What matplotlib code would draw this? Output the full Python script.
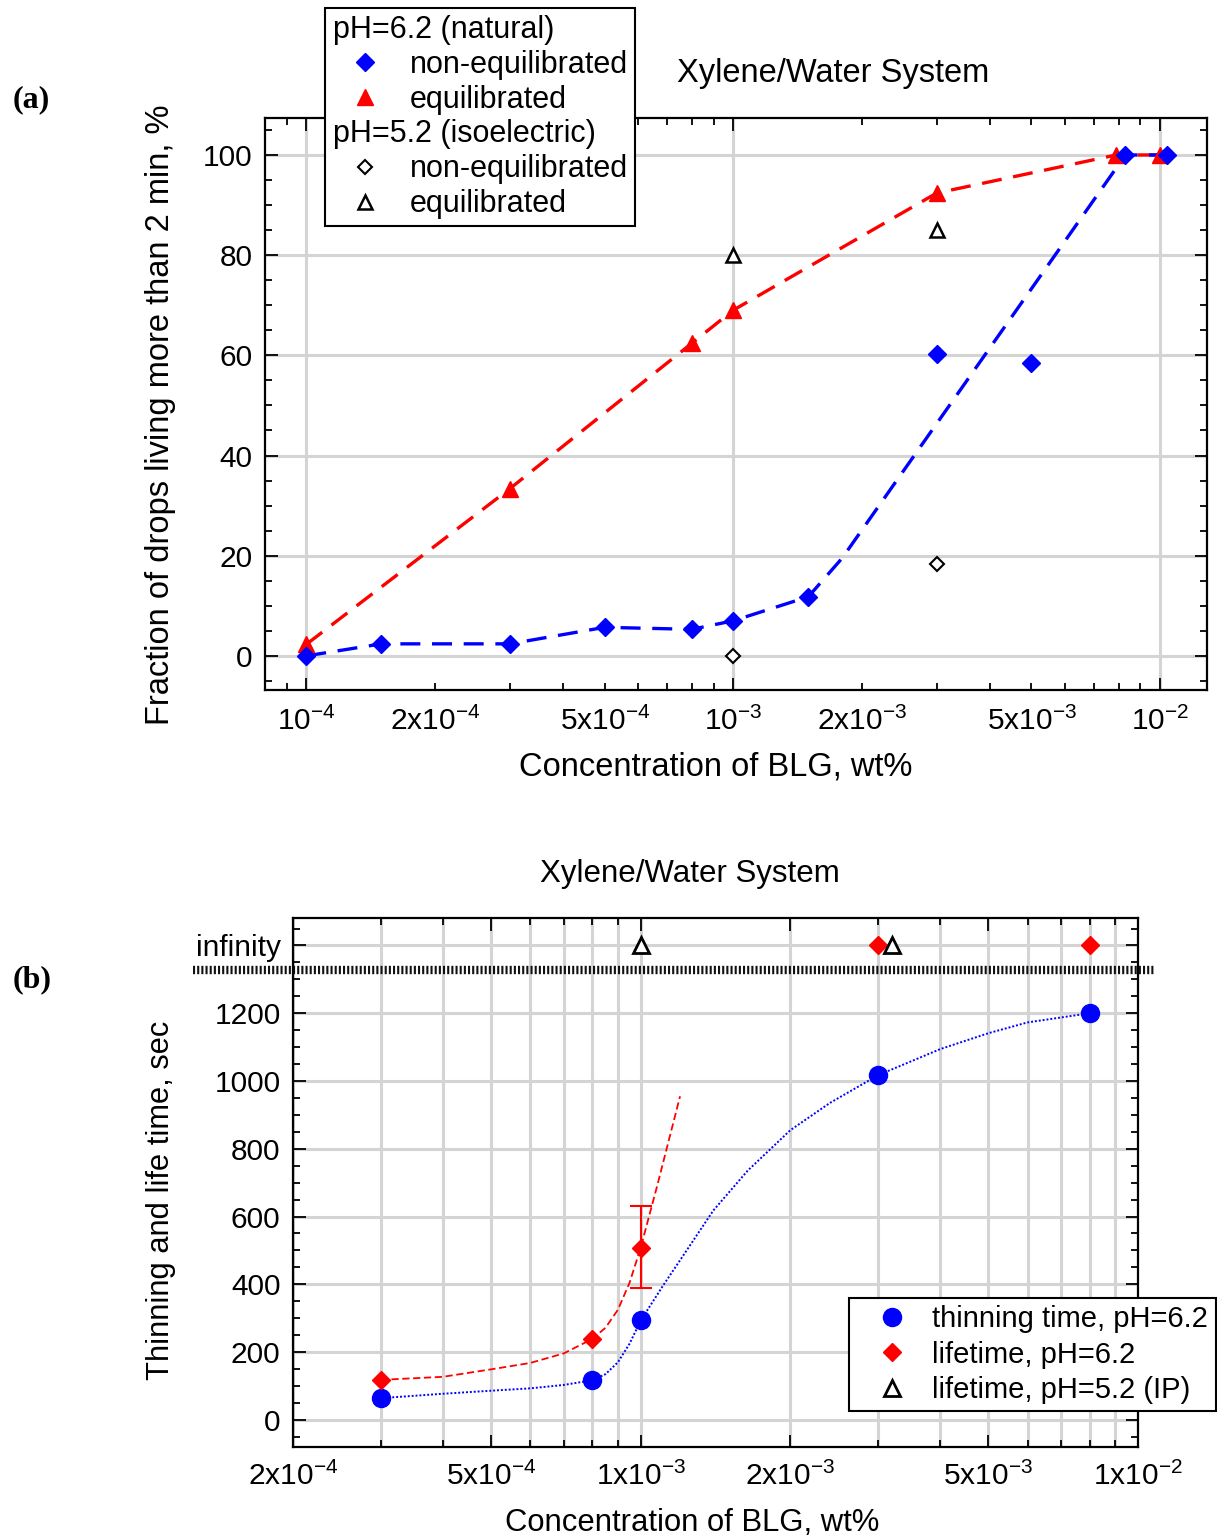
import numpy as np
import matplotlib.pyplot as plt
from matplotlib.lines import Line2D
from matplotlib.ticker import MultipleLocator, NullFormatter

plt.rcParams['font.family'] = ['Liberation Sans', 'DejaVu Sans']
plt.rcParams['mathtext.fontset'] = 'custom'
plt.rcParams['mathtext.rm'] = 'Liberation Sans'
plt.rcParams['mathtext.it'] = 'Liberation Sans:italic'
plt.rcParams['mathtext.bf'] = 'Liberation Sans:bold'

# ---- (a) fraction of drops living more than 2 min ----
conc_ne62 = [1e-4, 1.5e-4, 3e-4, 5e-4, 8e-4, 1e-3, 1.5e-3, 3e-3, 5e-3, 8.3e-3, 1.04e-2]
frac_ne62 = [0, 2.4, 2.4, 5.7, 5.3, 7.0, 11.8, 60.3, 58.4, 100, 100]
trend_ne62_x = [1e-4, 1.5e-4, 3e-4, 5e-4, 8e-4, 1e-3, 1.5e-3, 1.8e-3, 8.3e-3, 1.04e-2]
trend_ne62_y = [0, 2.4, 2.4, 5.7, 5.3, 7.0, 11.8, 19.5, 100, 100]
conc_eq62 = [1e-4, 3e-4, 8e-4, 1e-3, 3e-3, 7.9e-3, 1e-2]
frac_eq62 = [2.3, 33.4, 62.4, 69.0, 92.4, 100, 100]
conc_ne52 = [1e-3, 3e-3]
frac_ne52 = [0, 18.3]
conc_eq52 = [1e-3, 3e-3]
frac_eq52 = [80, 85]

a_major = [1e-4, 1e-3, 1e-2]
a_major_labels = ['$10^{-4}$', '$10^{-3}$', '$10^{-2}$']
a_labeled_minor = {2e-4: '2x$10^{-4}$', 5e-4: '5x$10^{-4}$',
                   2e-3: '2x$10^{-3}$', 5e-3: '5x$10^{-3}$'}

# ---- (b) thinning and life time ----
INF = 1400          # "infinity" row
INF_LINE = 1327     # break line
conc_thin = [3e-4, 8e-4, 1e-3, 3e-3, 8e-3]
thin_time = [65, 118, 296, 1017, 1200]
conc_life = [3e-4, 8e-4, 1e-3, 3e-3, 8e-3]
life_time = [118, 239, 508, INF, INF]
life_err_lo = [0, 0, 118, 0, 0]
life_err_hi = [0, 0, 122, 0, 0]
conc_life52 = [1e-3, 3.2e-3]
life52 = [INF, INF]
# guide curves
fit_life_x = [3e-4, 4e-4, 5e-4, 6e-4, 7e-4, 8e-4, 8.5e-4, 9e-4, 9.5e-4, 1e-3, 1.08e-3, 1.2e-3]
fit_life_y = [118, 127, 149, 168, 196, 239, 272, 325, 405, 508, 692, 955]
fit_thin_x = [3e-4, 4e-4, 5e-4, 6e-4, 7e-4, 8e-4, 8.5e-4, 9e-4, 9.5e-4, 1e-3, 1.11e-3, 1.2e-3,
              1.4e-3, 1.64e-3, 2e-3, 2.4e-3, 3e-3, 4e-3, 5e-3, 6e-3, 8e-3]
fit_thin_y = [64, 77, 86, 93, 103, 117, 135, 170, 225, 293, 397, 471,
              618, 735, 855, 935, 1017, 1094, 1141, 1173, 1200]

b_major = [2e-4, 5e-4, 1e-3, 2e-3, 5e-3, 1e-2]
b_major_labels = ['2x$10^{-4}$', '5x$10^{-4}$', '1x$10^{-3}$',
                  '2x$10^{-3}$', '5x$10^{-3}$', '1x$10^{-2}$']
b_yticks = [0, 200, 400, 600, 800, 1000, 1200, INF]
b_ylabels = ['0', '200', '400', '600', '800', '1000', '1200', 'infinity']

GRID = '#d4d4d4'
FS = 21.5

fig = plt.figure(figsize=(12.17, 15.39), dpi=100)
ax1 = fig.add_axes([0.2177, 0.5517, 0.7740, 0.3717])
ax2 = fig.add_axes([0.2408, 0.0598, 0.6943, 0.3437])

def style_axes(ax, xpad):
    for s in ax.spines.values():
        s.set_linewidth(1.6)
    ax.tick_params(which='both', direction='in', top=True, right=True,
                   width=1.3, labelsize=FS)
    ax.tick_params(which='major', length=9)
    ax.tick_params(which='minor', length=5)
    ax.tick_params(axis='x', which='both', pad=xpad)
    ax.tick_params(axis='y', which='both', pad=9)

# ---------------- panel (a) ----------------
ax1.set_xscale('log')
ax1.set_xlim(8.0e-5, 1.288e-2)
ax1.set_ylim(-6.8, 107.4)
style_axes(ax1, 12)
ax1.set_xticks(a_major, a_major_labels)
minor_a = [k * 10.0 ** e for e in (-5, -4, -3, -2) for k in range(2, 10)]
minor_a = [m for m in minor_a if 8.0e-5 < m < 1.288e-2]
ax1.set_xticks(minor_a, [a_labeled_minor.get(m, '') for m in minor_a], minor=True)
ax1.set_yticks([0, 20, 40, 60, 80, 100])
ax1.yaxis.set_minor_locator(MultipleLocator(5))
ax1.grid(True, which='major', color=GRID, lw=2.2)
ax1.set_axisbelow(True)

dash = (0, (6, 3.5))
ax1.plot(conc_eq62, frac_eq62, color='red', ls=dash, lw=2.4)
ax1.plot(trend_ne62_x, trend_ne62_y, color='blue', ls=dash, lw=2.4)
l_eq62, = ax1.plot(conc_eq62, frac_eq62, 'r^', ms=12, ls='none', label='equilibrated')
l_ne62, = ax1.plot(conc_ne62, frac_ne62, 'bD', ms=9.5, ls='none', label='non-equilibrated')
l_ne52, = ax1.plot(conc_ne52, frac_ne52, 'D', ms=7, mfc='white', mec='black', mew=1.5,
                   ls='none', label='non-equilibrated')
l_eq52, = ax1.plot(conc_eq52, frac_eq52, '^', ms=10, mfc='white', mec='black', mew=1.8,
                   ls='none', label='equilibrated')

ax1.set_xlabel('Concentration of BLG, wt%', fontsize=23.5)
ax1.xaxis.set_label_coords(0.479, -0.108)
ax1.set_ylabel('Fraction of drops living more than 2 min, %', fontsize=23.5)
ax1.yaxis.set_label_coords(-0.094, 0.481)
ax1.set_title('Xylene/Water System', fontsize=23.5, x=0.603, pad=26)

hdr1 = Line2D([], [], ls='none', label=' ')
hdr2 = Line2D([], [], ls='none', label=' ')
leg1 = ax1.legend(handles=[hdr1, l_ne62, l_eq62, hdr2, l_ne52, l_eq52],
                  loc='upper left', bbox_to_anchor=(0.0637, 1.192), borderaxespad=0,
                  fontsize=22, frameon=True, fancybox=False, framealpha=1,
                  edgecolor='black', borderpad=0.22, handlelength=2.2,
                  handletextpad=0.37, labelspacing=0.16)
leg1.get_frame().set_linewidth(1.5)
for i, hdr in ((0, 'pH=6.2 (natural)'), (3, 'pH=5.2 (isoelectric)')):
    ax1.annotate(hdr, xy=(0, 0), xycoords=leg1.get_texts()[i],
                 xytext=(-77, 0), textcoords='offset pixels', fontsize=22,
                 ha='left', va='bottom', zorder=10, annotation_clip=False)

fig.text(0.010, 1 - 100 / 1539, '(a)', family='Liberation Serif', weight='bold',
         fontsize=23, va='center')

# ---------------- panel (b) ----------------
ax2.set_xscale('log')
ax2.set_xlim(2e-4, 1e-2)
ax2.set_ylim(-80, 1481)
style_axes(ax2, 11)
ax2.set_xticks(b_major, b_major_labels)
minor_b = [k * 10.0 ** e for e in (-4, -3) for k in range(2, 10)]
minor_b = [m for m in minor_b if 2e-4 < m < 1e-2 and not any(np.isclose(m, b_major))]
ax2.set_xticks(minor_b, minor=True)
ax2.xaxis.set_minor_formatter(NullFormatter())
ax2.set_yticks(b_yticks, b_ylabels)
ax2.yaxis.set_minor_locator(MultipleLocator(50))
ax2.grid(True, axis='x', which='both', color=GRID, lw=2.2)
ax2.grid(True, axis='y', which='major', color=GRID, lw=2.2)
ax2.set_axisbelow(True)

ax2.plot(fit_life_x, fit_life_y, color='red', ls=(0, (4, 2)), lw=1.3)
ax2.plot(fit_thin_x, fit_thin_y, color='blue', ls=(0, (1, 1)), lw=1.4)

err_mask = np.array(life_err_hi) > 0
ax2.errorbar(np.array(conc_life)[err_mask], np.array(life_time)[err_mask],
             yerr=[np.array(life_err_lo)[err_mask], np.array(life_err_hi)[err_mask]],
             fmt='none', ecolor='red', elinewidth=1.5, capsize=8, capthick=1.5)

m_thin, = ax2.plot(conc_thin, thin_time, 'o', color='blue', ms=13, ls='none',
                   label='thinning time, pH=6.2')
m_life, = ax2.plot(conc_life, life_time, 'D', color='red', ms=9, ls='none',
                   label='lifetime, pH=6.2')
m_life52, = ax2.plot(conc_life52, life52, '^', ms=11, mfc='white', mec='black', mew=2,
                     ls='none', label='lifetime, pH=5.2 (IP)')

ax2.axhline(INF_LINE, xmin=-0.118, xmax=1.020, color='#111111', ls=(0, (0.25, 0.25)),
            lw=6, clip_on=False)

ax2.set_xlabel('Concentration of BLG, wt%', fontsize=22.3)
ax2.xaxis.set_label_coords(0.472, -0.115)
ax2.set_ylabel('Thinning and life time, sec', fontsize=22.2)
ax2.yaxis.set_label_coords(-0.139, 0.467)
ax2.set_title('Xylene/Water System', fontsize=22.5, x=0.47, pad=26)

leg2 = ax2.legend(handles=[m_thin, m_life, m_life52], loc='upper left',
                  bbox_to_anchor=(0.658, 0.2817), borderaxespad=0, fontsize=21,
                  frameon=True, fancybox=False, framealpha=1, edgecolor='black',
                  borderpad=0.25, handlelength=2.45, handletextpad=0.16,
                  labelspacing=0.25)
leg2.get_frame().set_linewidth(1.5)

fig.text(0.010, 1 - 980 / 1539, '(b)', family='Liberation Serif', weight='bold',
         fontsize=23, va='center')

fig.savefig('out.png', dpi=100)
